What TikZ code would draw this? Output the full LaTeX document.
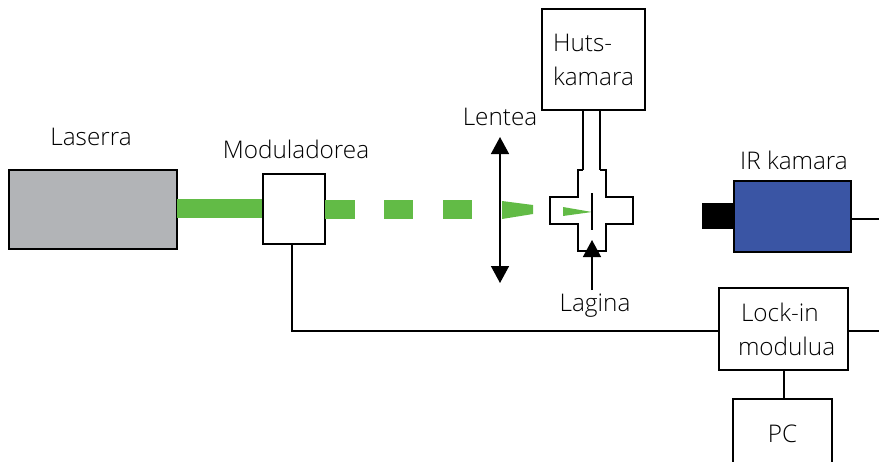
\documentclass[tikz,border=0pt]{standalone}
\usepackage{fontspec}
\setmainfont{Open Sans Light}
\usetikzlibrary{arrows.meta}
\definecolor{beam}{HTML}{62BB46}
\definecolor{laser}{HTML}{B2B4B7}
\definecolor{cam}{HTML}{3A55A4}
\tikzset{
  boxn/.style={draw=black,line width=1.5pt,fill=white,inner sep=0pt},
  lab/.style={inner sep=0pt,font=\fontsize{24.3}{34}\selectfont,text=black},
  wire/.style={draw=black,line width=1.5pt},
  beamn/.style={fill=beam,draw=none,inner sep=0pt},
  headed/.style={line width=1.5pt,{Triangle[length=17pt,width=18pt]}-{Triangle[length=17pt,width=18pt]}},
  headone/.style={line width=1.5pt,-{Triangle[length=17pt,width=18pt]}},
}
\begin{document}
\begin{tikzpicture}[x=1pt,y=-1pt]
\useasboundingbox (0,0) rectangle (879,461);
\clip (0,0) rectangle (879,461);
\coordinate (rA) at (879,219);
\coordinate (rB) at (879,331);
\coordinate (lenstop) at (500,137);
\coordinate (lensbot) at (500,283);
\coordinate (lagtail) at (592,290);
\coordinate (lagtip) at (592,240);
\coordinate (tubeLa) at (583,110);
\coordinate (tubeLb) at (583,170);
\coordinate (tubeRa) at (600,110);
\coordinate (tubeRb) at (600,170);
\coordinate (samplea) at (592,193);
\coordinate (sampleb) at (592,230);
% laser
\node[draw=black,line width=1.5pt,fill=laser,inner sep=0pt,minimum width=168pt,minimum height=79pt] (laser) at (93,209.5) {};
\node[beamn,minimum width=86pt,minimum height=19pt] (beam0) at (220,208.5) {};
\node[boxn,minimum width=62pt,minimum height=70pt] (mod) at (294,209) {};
\node[beamn,minimum width=30pt,minimum height=19pt] (d1) at (340,209.5) {};
\node[beamn,minimum width=29pt,minimum height=19pt] (d2) at (398.5,209.5) {};
\node[beamn,minimum width=29pt,minimum height=19pt] (d3) at (457.5,209.5) {};
\fill[beam] (502,201) -- (533,205) -- (533,214) -- (502,219) -- cycle;
% cross chamber
\draw[line width=1.5pt,line join=miter]
  (583,170) -- (578,170) -- (578,197) -- (550,197) -- (550,224) -- (578,224) -- (578,251) -- (606,251) -- (606,224) -- (633,224) -- (633,197) -- (606,197) -- (606,170) -- (600,170);
\draw[wire] (tubeLa) -- (tubeLb);
\draw[wire] (tubeRa) -- (tubeRb);
\fill[beam] (563,207) -- (592,212) -- (563,216) -- cycle;
\draw[line width=2.6pt] (samplea) -- (sampleb);
\node[boxn,minimum width=103pt,minimum height=101pt,align=left,lab] (huts) at (593.5,59.5) {Huts-\\kamara};
\draw[headed] (lensbot) -- (lenstop);
\draw[headone] (lagtail) -- (lagtip);
% camera
\node[draw=black,line width=1.5pt,fill=cam,inner sep=0pt,minimum width=117pt,minimum height=71pt] (cam) at (792.5,216.5) {};
\node[fill=black,inner sep=0pt,minimum width=31.5pt,minimum height=26pt,anchor=east] (lens) at (cam.west |- 0,216) {};
\node[boxn,minimum width=129pt,minimum height=82pt,text width=129pt,align=flush left,lab] (lock) at (783.5,329) {\hspace*{22pt}Lock-in\\\hspace*{19pt}modulua};
\node[boxn,minimum width=99pt,minimum height=70pt,lab] (pc) at (782.5,434) {PC};
\draw[wire] (cam.east |- rA) -- (rA);
\draw[wire] (lock.east |- rB) -- (rB);
\draw[wire] (mod.south -| 292,0) |- (lock.west |- rB);
\draw[wire] (lock.south -| 784,0) -- (pc.north -| 784,0);
% labels
\node[lab] (tlaser) at (91,137) {Laserra};
\node[lab] (tmod) at (296,149) {Moduladorea};
\node[lab] (tlen) at (500,117) {Lentea};
\node[lab] (tlag) at (595,306) {Lagina};
\node[lab] (tir) at (794,160) {IR kamara};
\end{tikzpicture}
\end{document}
